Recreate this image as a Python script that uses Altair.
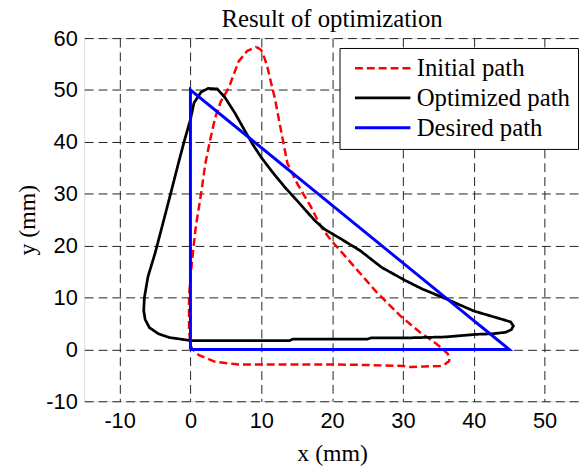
import altair as alt
import pandas as pd

series = ["Initial path", "Optimized path", "Desired path"]
colors = ["#ff0000", "#000000", "#0000ff"]
dashes = [[8, 4], [1, 0], [1, 0]]
widths = [2.5, 3.0, 2.5]

init_x = [9.3, 10.0, 10.5, 10.9, 11.4, 11.9, 12.8, 13.7, 15.1, 17.0, 18.4, 19.8, 21.5, 23.1, 24.7,
          26.3, 28.0, 29.6, 31.0, 32.4, 33.5, 34.7, 35.6, 36.3, 36.6, 36.5, 35.8, 35.2, 33.0, 31.0,
          30.0, 25.0, 19.3, 15.0, 10.0, 6.8, 3.5, 1.2, 0.3, 0.0, -0.2, -0.2, 0.2, 0.7, 0.9, 1.5,
          2.1, 2.8, 3.5, 4.3, 5.4, 6.8, 8.0, 9.3]
init_y = [58.3, 57.7, 56.0, 54.2, 51.3, 48.5, 42.1, 35.8, 31.9, 27.5, 23.7, 21.1, 18.5, 16.0, 13.5,
          11.0, 8.7, 6.5, 4.9, 3.3, 2.3, 1.1, 0.1, -0.8, -1.6, -2.3, -3.0, -3.2, -3.3, -3.4,
          -3.2, -3.0, -2.9, -2.9, -2.9, -2.9, -2.4, -1.1, 0.0, 0.8, 4.0, 10.3, 16.7, 23.0, 24.9, 30.0,
          35.8, 40.5, 44.7, 47.8, 50.4, 55.5, 57.5, 58.3]

opt_x = [0.0, 5.0, 10.0, 14.0, 14.5, 20.0, 25.0, 25.5, 30.0, 36.0, 40.3, 42.6, 44.5, 45.3, 45.6,
         45.2, 43.5, 40.0, 36.0, 32.8, 30.3, 27.0, 24.0, 21.0, 18.9, 17.5, 15.5, 13.3, 11.5, 10.0,
         8.8, 7.7, 6.3, 4.9, 3.8, 2.5, 1.5, 0.5, 0.0, -0.8, -1.6, -2.8, -4.0, -5.0, -6.0, -6.5,
         -6.6, -6.4, -5.8, -4.5, -3.0, -1.5, 0.0]
opt_y = [1.7, 1.7, 1.7, 1.7, 2.0, 2.0, 2.0, 2.2, 2.2, 2.4, 2.9, 3.0, 3.3, 3.8, 4.5,
         5.3, 6.0, 7.4, 9.8, 11.6, 13.3, 15.8, 19.0, 21.5, 23.2, 24.9, 28.0, 31.3, 34.3, 37.0,
         39.5, 42.1, 45.5, 48.5, 50.2, 50.3, 49.6, 47.5, 44.3, 40.5, 36.4, 30.0, 23.7, 18.5, 14.0, 10.0,
         7.5, 5.8, 4.2, 3.0, 2.3, 2.0, 1.7]

des_x = [0, 0, 45, 0]
des_y = [0, 50, 0, 0]

x_ticks = [-10, 0, 10, 20, 30, 40, 50]
y_ticks = [-10, 0, 10, 20, 30, 40, 50, 60]

rows = []
for name, xs, ys in zip(series, [init_x, opt_x, des_x], [init_y, opt_y, des_y]):
    for i, (a, b) in enumerate(zip(xs, ys)):
        rows.append({"series": name, "x": a, "y": b, "i": i})
df = pd.DataFrame(rows)

serif = "Liberation Serif"
sans = "Liberation Sans"

leg = alt.Legend(
    title=None, orient="none", legendX=258, legendY=10,
    symbolType="M-0.7,0H7.3", symbolSize=196,
    labelOffset=45, labelFont=serif, labelFontSize=25, labelColor="black",
    strokeColor="black", fillColor="white", padding=8, rowPadding=4,
    labelLimit=300,
)

axis_common = dict(
    titleFont=serif, titleFontSize=24, titleFontWeight="normal", titleColor="black",
    labelFont=sans, labelFontSize=22, labelColor="black",
    labelExpr="datum.value + ''",
    tickSize=0, domain=False, grid=True, gridColor="#222222", gridDash=[9, 5],
    gridWidth=1, gridOpacity=1,
)

chart = alt.Chart(df).mark_line(clip=True).encode(
    x=alt.X("x:Q", scale=alt.Scale(domain=[-15, 55], nice=False, zero=False),
            axis=alt.Axis(values=x_ticks, title="x (mm)", labelPadding=9, titlePadding=11, **axis_common)),
    y=alt.Y("y:Q", scale=alt.Scale(domain=[-10, 60], nice=False, zero=False),
            axis=alt.Axis(values=y_ticks, title="y (mm)", labelPadding=7, titlePadding=6, **axis_common)),
    color=alt.Color("series:N", scale=alt.Scale(domain=series, range=colors), legend=leg),
    strokeDash=alt.StrokeDash("series:N", scale=alt.Scale(domain=series, range=dashes), legend=leg),
    strokeWidth=alt.StrokeWidth("series:N", scale=alt.Scale(domain=series, range=widths), legend=leg),
    order="i:Q",
).properties(
    width=501, height=367,
    title=alt.Title("Result of optimization", font=serif, fontSize=25, fontWeight="normal",
                    color="black", offset=-5, anchor="middle"),
    autosize=alt.AutoSizeParams(type="none"),
    padding={"left": 77, "top": 28, "right": 0, "bottom": 64},
).configure_view(stroke="black", strokeWidth=1.5).configure(background="white")

chart.save("out.html", embed_options={"renderer": "svg", "actions": False})
